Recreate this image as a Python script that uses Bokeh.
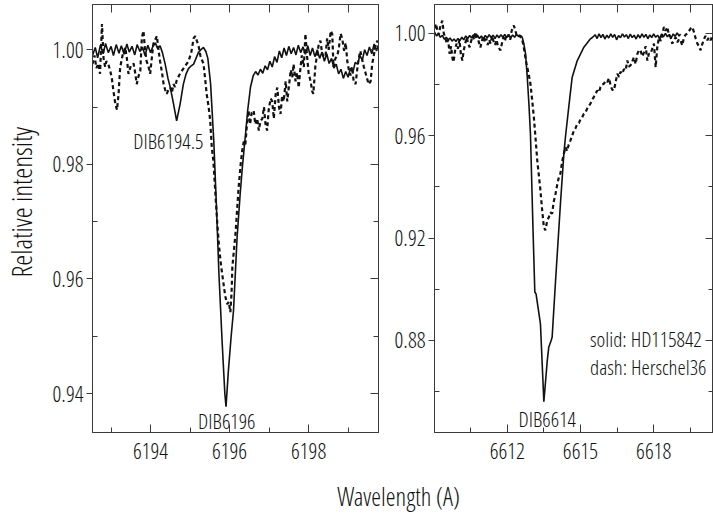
import math
from bokeh.plotting import figure
from bokeh.layouts import column, row
from bokeh.models import Range1d, FixedTicker, PrintfTickFormatter, LinearAxis
from bokeh.core.properties import value
from bokeh.embed import file_html
from bokeh.resources import INLINE

FONT = "Open Sans Condensed Light"

# ---------------- data: left panel (DIB 6194.5 / 6196) ----------------
l_solid_wl = [6192.53, 6192.60, 6192.66, 6192.73, 6192.80, 6192.86, 6192.93, 6193.00, 6193.06, 6193.13,
              6193.20, 6193.26, 6193.33, 6193.40, 6193.46, 6193.53, 6193.60, 6193.66, 6193.73, 6193.80,
              6193.86, 6193.93, 6194.00, 6194.06, 6194.12, 6194.18, 6194.24, 6194.30, 6194.37, 6194.44,
              6194.50, 6194.58, 6194.66, 6194.75, 6194.83, 6194.90, 6194.96, 6195.03, 6195.09, 6195.15,
              6195.21, 6195.27, 6195.34, 6195.40, 6195.45, 6195.52, 6195.60, 6195.66, 6195.73, 6195.81,
              6195.88, 6195.91, 6195.97, 6196.04, 6196.10, 6196.19, 6196.27, 6196.33, 6196.40, 6196.46,
              6196.53, 6196.60, 6196.66, 6196.72, 6196.78, 6196.84, 6196.90, 6196.96, 6197.02, 6197.08,
              6197.14, 6197.20, 6197.26, 6197.32, 6197.38, 6197.44, 6197.50, 6197.56, 6197.62, 6197.68,
              6197.74, 6197.80, 6197.86, 6197.92, 6197.98, 6198.04, 6198.10, 6198.16, 6198.22, 6198.28,
              6198.34, 6198.40, 6198.46, 6198.52, 6198.58, 6198.64, 6198.70, 6198.76, 6198.82, 6198.88,
              6198.94, 6199.00, 6199.06, 6199.12, 6199.18, 6199.24, 6199.30, 6199.36, 6199.42, 6199.48,
              6199.54, 6199.60, 6199.66, 6199.72, 6199.77]
l_solid_int = [0.9990, 1.0004, 0.9986, 1.0008, 0.9993, 1.0011, 0.9995, 1.0006, 0.9990, 1.0009,
               0.9994, 1.0007, 0.9992, 1.0010, 0.9996, 1.0006, 0.9991, 1.0009, 0.9997, 1.0004,
               0.9990, 1.0008, 0.9995, 1.0006, 1.0012, 1.0002, 1.0007, 0.9995, 0.9975, 0.9950,
               0.9934, 0.9906, 0.9876, 0.9906, 0.9940, 0.9958, 0.9967, 0.9972, 0.9975, 0.9985,
               0.9995, 1.0000, 1.0004, 0.9997, 0.9985, 0.9940, 0.9841, 0.9740, 0.9610, 0.9492,
               0.9400, 0.9377, 0.9440, 0.9500, 0.9545, 0.9672, 0.9750, 0.9800, 0.9850, 0.9895,
               0.9935, 0.9955, 0.9962, 0.9956, 0.9966, 0.9959, 0.9972, 0.9965, 0.9980, 0.9970,
               0.9988, 0.9978, 0.9998, 0.9986, 1.0003, 0.9990, 1.0006, 0.9993, 1.0004, 0.9991,
               1.0008, 0.9995, 1.0005, 0.9992, 1.0007, 0.9990, 1.0003, 0.9988, 1.0000, 0.9985,
               0.9996, 0.9980, 0.9993, 0.9976, 0.9985, 0.9968, 0.9975, 0.9958, 0.9966, 0.9950,
               0.9962, 0.9952, 0.9968, 0.9960, 0.9978, 0.9975, 0.9990, 0.9982, 1.0000, 0.9990,
               1.0005, 0.9993, 1.0010, 0.9998, 1.0008]

l_dash_wl = [6192.53, 6192.58, 6192.63, 6192.68, 6192.72, 6192.77, 6192.81, 6192.85, 6192.88, 6192.93,
             6192.98, 6193.02, 6193.06, 6193.11, 6193.15, 6193.19, 6193.23, 6193.29, 6193.36, 6193.40,
             6193.44, 6193.50, 6193.57, 6193.61, 6193.65, 6193.70, 6193.74, 6193.78, 6193.82, 6193.86,
             6193.90, 6193.95, 6193.99, 6194.03, 6194.07, 6194.12, 6194.16, 6194.20, 6194.24, 6194.29,
             6194.33, 6194.37, 6194.41, 6194.45, 6194.50, 6194.54, 6194.58, 6194.62, 6194.66, 6194.72,
             6194.79, 6194.86, 6194.96, 6195.03, 6195.09, 6195.13, 6195.17, 6195.22, 6195.26, 6195.30,
             6195.34, 6195.38, 6195.42, 6195.47, 6195.51, 6195.55, 6195.59, 6195.64, 6195.69, 6195.73,
             6195.77, 6195.81, 6195.85, 6195.89, 6195.94, 6195.98, 6196.02, 6196.05, 6196.07, 6196.11,
             6196.15, 6196.19, 6196.23, 6196.28, 6196.32, 6196.36, 6196.40, 6196.44, 6196.48, 6196.52,
             6196.56, 6196.61, 6196.65, 6196.70, 6196.74, 6196.78, 6196.83, 6196.87, 6196.91, 6196.95,
             6196.99, 6197.04, 6197.08, 6197.12, 6197.17, 6197.21, 6197.25, 6197.29, 6197.33, 6197.37,
             6197.42, 6197.46, 6197.50, 6197.55, 6197.59, 6197.62, 6197.67, 6197.71, 6197.75, 6197.79,
             6197.83, 6197.88, 6197.92, 6197.96, 6198.00, 6198.05, 6198.09, 6198.12, 6198.17, 6198.21,
             6198.26, 6198.30, 6198.34, 6198.38, 6198.43, 6198.47, 6198.51, 6198.56, 6198.60, 6198.63,
             6198.68, 6198.73, 6198.77, 6198.81, 6198.85, 6198.90, 6198.94, 6198.98, 6199.02, 6199.06,
             6199.10, 6199.14, 6199.19, 6199.23, 6199.27, 6199.31, 6199.35, 6199.40, 6199.44, 6199.48,
             6199.52, 6199.57, 6199.61, 6199.65, 6199.69, 6199.74, 6199.77]
l_dash_int = [0.9975, 0.9990, 0.9968, 0.9976, 0.9958, 1.0045, 0.9985, 0.9970, 0.9980, 0.9975,
              0.9963, 0.9950, 0.9928, 0.9905, 0.9895, 0.9923, 0.9969, 0.9990, 1.0004, 0.9985,
              0.9958, 0.9972, 0.9976, 0.9960, 0.9940, 0.9955, 0.9963, 1.0021, 1.0033, 1.0000,
              0.9980, 0.9970, 0.9958, 0.9985, 1.0010, 1.0018, 1.0024, 1.0000, 0.9980, 0.9960,
              0.9940, 0.9930, 0.9923, 0.9930, 0.9934, 0.9925, 0.9940, 0.9935, 0.9946, 0.9955,
              0.9963, 0.9970, 0.9980, 0.9995, 1.0020, 1.0024, 1.0016, 1.0005, 0.9990, 0.9982,
              0.9976, 0.9950, 0.9923, 0.9900, 0.9876, 0.9830, 0.9806, 0.9750, 0.9696, 0.9660,
              0.9632, 0.9610, 0.9590, 0.9570, 0.9556, 0.9560, 0.9542, 0.9575, 0.9620, 0.9650,
              0.9679, 0.9720, 0.9760, 0.9800, 0.9824, 0.9840, 0.9835, 0.9870, 0.9894, 0.9870,
              0.9890, 0.9894, 0.9870, 0.9880, 0.9859, 0.9875, 0.9880, 0.9900, 0.9870, 0.9859,
              0.9895, 0.9915, 0.9910, 0.9880, 0.9925, 0.9934, 0.9900, 0.9888, 0.9920, 0.9910,
              0.9945, 0.9910, 0.9935, 0.9965, 0.9952, 0.9975, 0.9945, 0.9960, 0.9934, 0.9965,
              0.9990, 0.9970, 1.0028, 0.9990, 0.9960, 0.9945, 0.9928, 0.9923, 0.9970, 0.9990,
              1.0010, 1.0016, 0.9995, 0.9987, 0.9990, 1.0020, 1.0000, 1.0033, 1.0027, 0.9970,
              0.9985, 0.9990, 1.0005, 1.0028, 1.0020, 0.9998, 1.0012, 0.9980, 0.9965, 0.9955,
              0.9970, 0.9946, 0.9940, 0.9965, 0.9985, 0.9998, 0.9985, 0.9970, 0.9960, 0.9950,
              0.9940, 0.9945, 0.9975, 0.9990, 1.0005, 1.0016, 1.0004]

# ---------------- data: right panel (DIB 6614) ----------------
r_solid_wl = [6609.02, 6609.10, 6609.18, 6609.26, 6609.34, 6609.42, 6609.50, 6609.58, 6609.66, 6609.74,
              6609.82, 6609.90, 6609.98, 6610.06, 6610.14, 6610.22, 6610.30, 6610.38, 6610.46, 6610.54,
              6610.62, 6610.70, 6610.78, 6610.86, 6610.94, 6611.02, 6611.10, 6611.18, 6611.26, 6611.34,
              6611.42, 6611.50, 6611.58, 6611.66, 6611.74, 6611.82, 6611.90, 6611.98, 6612.06, 6612.14,
              6612.22, 6612.30, 6612.38, 6612.46, 6612.54, 6612.61, 6612.68, 6612.75, 6612.82, 6612.89,
              6612.95, 6613.06, 6613.13, 6613.18, 6613.23, 6613.36, 6613.50, 6613.64, 6613.70, 6613.80,
              6613.84, 6613.98, 6614.18, 6614.32, 6614.39, 6614.52, 6614.66, 6614.87, 6615.14, 6615.41,
              6615.50, 6615.60, 6615.68, 6615.76, 6615.84, 6615.92, 6616.00, 6616.08, 6616.16, 6616.24,
              6616.32, 6616.40, 6616.48, 6616.56, 6616.64, 6616.72, 6616.80, 6616.88, 6616.96, 6617.04,
              6617.12, 6617.20, 6617.28, 6617.36, 6617.44, 6617.52, 6617.60, 6617.68, 6617.76, 6617.84,
              6617.92, 6618.00, 6618.08, 6618.16, 6618.24, 6618.32, 6618.40, 6618.48, 6618.56, 6618.64,
              6618.72, 6618.80, 6618.88, 6618.96, 6619.04, 6619.10]
r_solid_int = [1.0005, 0.9990, 0.9998, 0.9985, 0.9992, 0.9978, 0.9985, 0.9975, 0.9982, 0.9970,
               0.9978, 0.9968, 0.9980, 0.9972, 0.9985, 0.9975, 0.9990, 0.9980, 0.9992, 0.9982,
               0.9995, 0.9983, 0.9993, 0.9980, 0.9990, 0.9978, 0.9992, 0.9982, 0.9995, 0.9984,
               0.9993, 0.9980, 0.9994, 0.9983, 0.9995, 0.9985, 0.9996, 0.9984, 0.9995, 0.9982,
               0.9994, 0.9985, 0.9996, 0.9988, 0.9992, 0.9986, 0.9960, 0.9920, 0.9830, 0.9720,
               0.9610, 0.9220, 0.8989, 0.8982, 0.8950, 0.8865, 0.8560, 0.8721, 0.8773, 0.8800,
               0.8813, 0.9034, 0.9335, 0.9530, 0.9600, 0.9712, 0.9829, 0.9894, 0.9946, 0.9979,
               0.9985, 0.9995, 0.9980, 0.9998, 0.9984, 0.9996, 0.9978, 0.9993, 0.9982, 0.9998,
               0.9985, 0.9996, 0.9975, 0.9992, 0.9983, 0.9998, 0.9986, 0.9995, 0.9980, 0.9997,
               0.9984, 0.9993, 0.9978, 0.9995, 0.9982, 0.9998, 0.9985, 0.9996, 0.9979, 0.9994,
               0.9984, 0.9998, 0.9985, 0.9993, 0.9980, 0.9997, 0.9986, 1.0000, 0.9987, 0.9996,
               0.9982, 0.9998, 0.9988, 1.0002, 0.9990, 0.9998]

r_dash_wl = [6609.02, 6609.08, 6609.14, 6609.20, 6609.26, 6609.34, 6609.40, 6609.46, 6609.52, 6609.58,
             6609.64, 6609.70, 6609.76, 6609.80, 6609.86, 6609.92, 6609.98, 6610.04, 6610.10, 6610.16,
             6610.22, 6610.28, 6610.34, 6610.40, 6610.46, 6610.52, 6610.58, 6610.64, 6610.70, 6610.77,
             6610.84, 6610.90, 6610.96, 6611.02, 6611.08, 6611.14, 6611.20, 6611.26, 6611.32, 6611.38,
             6611.44, 6611.50, 6611.56, 6611.62, 6611.68, 6611.72, 6611.78, 6611.84, 6611.90, 6611.96,
             6612.00, 6612.06, 6612.12, 6612.18, 6612.24, 6612.27, 6612.32, 6612.38, 6612.44, 6612.50,
             6612.54, 6612.60, 6612.66, 6612.72, 6612.78, 6612.82, 6612.88, 6612.95, 6613.02, 6613.09,
             6613.16, 6613.23, 6613.30, 6613.36, 6613.43, 6613.50, 6613.56, 6613.64, 6613.70, 6613.77,
             6613.84, 6613.90, 6613.98, 6614.05, 6614.12, 6614.18, 6614.25, 6614.32, 6614.39, 6614.45,
             6614.52, 6614.59, 6614.66, 6614.73, 6614.80, 6614.87, 6614.94, 6615.00, 6615.07, 6615.14,
             6615.20, 6615.27, 6615.34, 6615.41, 6615.48, 6615.55, 6615.62, 6615.69, 6615.76, 6615.82,
             6615.89, 6615.96, 6616.03, 6616.10, 6616.17, 6616.24, 6616.30, 6616.37, 6616.44, 6616.51,
             6616.58, 6616.64, 6616.71, 6616.78, 6616.85, 6616.92, 6616.98, 6617.05, 6617.12, 6617.19,
             6617.26, 6617.33, 6617.40, 6617.46, 6617.53, 6617.60, 6617.67, 6617.74, 6617.80, 6617.87,
             6617.94, 6618.01, 6618.08, 6618.15, 6618.22, 6618.29, 6618.36, 6618.42, 6618.49, 6618.56,
             6618.62, 6618.69, 6618.76, 6618.83, 6618.90, 6618.97, 6619.04, 6619.10, 6619.17, 6619.24,
             6619.31, 6619.38, 6619.45, 6619.52, 6619.58, 6619.65, 6619.72, 6619.79, 6619.85, 6619.92,
             6619.98, 6620.05, 6620.12, 6620.20, 6620.26, 6620.33, 6620.40, 6620.45]
r_dash_int = [1.0020, 1.0038, 1.0010, 0.9995, 1.0030, 1.0050, 1.0000, 0.9985, 0.9960, 0.9975,
              0.9920, 0.9950, 0.9900, 0.9888, 0.9930, 0.9960, 0.9940, 0.9975, 0.9920, 0.9894,
              0.9935, 0.9960, 0.9985, 0.9960, 0.9946, 0.9970, 0.9990, 0.9975, 1.0005, 0.9986,
              0.9965, 0.9945, 0.9970, 0.9990, 0.9965, 0.9980, 0.9955, 0.9975, 0.9960, 0.9990,
              0.9970, 0.9955, 0.9975, 0.9950, 0.9940, 0.9934, 0.9960, 0.9985, 0.9970, 0.9990,
              0.9986, 0.9995, 0.9975, 1.0010, 1.0025, 1.0031, 1.0015, 0.9995, 1.0000, 0.9990,
              0.9986, 0.9980, 0.9955, 0.9920, 0.9885, 0.9868, 0.9840, 0.9803, 0.9740, 0.9673,
              0.9590, 0.9503, 0.9440, 0.9386, 0.9310, 0.9243, 0.9230, 0.9269, 0.9280, 0.9300,
              0.9296, 0.9340, 0.9374, 0.9410, 0.9440, 0.9453, 0.9500, 0.9530, 0.9555, 0.9540,
              0.9565, 0.9582, 0.9600, 0.9620, 0.9630, 0.9647, 0.9650, 0.9665, 0.9672, 0.9686,
              0.9690, 0.9705, 0.9715, 0.9726, 0.9740, 0.9752, 0.9765, 0.9777, 0.9770, 0.9790,
              0.9800, 0.9803, 0.9815, 0.9810, 0.9825, 0.9795, 0.9780, 0.9777, 0.9810, 0.9842,
              0.9830, 0.9850, 0.9842, 0.9860, 0.9855, 0.9894, 0.9870, 0.9875, 0.9890, 0.9907,
              0.9880, 0.9920, 0.9935, 0.9934, 0.9910, 0.9925, 0.9950, 0.9894, 0.9920, 0.9920,
              0.9940, 0.9960, 0.9868, 0.9950, 0.9985, 0.9970, 1.0000, 1.0025, 1.0010, 1.0025,
              0.9995, 0.9986, 0.9960, 0.9975, 0.9985, 0.9965, 0.9978, 0.9973, 0.9953, 0.9985,
              0.9995, 1.0000, 1.0010, 1.0020, 1.0025, 1.0005, 0.9980, 0.9960, 0.9950, 0.9934,
              0.9955, 0.9975, 0.9990, 0.9973, 0.9985, 0.9973, 0.9990, 0.9980]

# ticks
l_xticks = [6194, 6196, 6198]
l_xminor = [6193, 6195, 6197, 6199]
l_yticks = [0.94, 0.96, 0.98, 1.00]
l_yminor = [0.93, 0.95, 0.97, 0.99]
r_xticks = [6612, 6615, 6618]
r_xminor = [6610.5, 6613.5, 6616.5, 6619.5]
r_yticks = [0.88, 0.92, 0.96, 1.00]
r_yminor = [0.86, 0.90, 0.94, 0.98]

# annotations
l_notes = ["DIB6194.5", "DIB6196"]
l_notes_x = [6194.45, 6195.93]
l_notes_y = [0.9841, 0.9352]
r_notes = ["DIB6614"]
r_notes_x = [6613.64]
r_notes_y = [0.8493]
legend_texts = ["solid: HD115842", "dash: Herschel36"]
legend_x = [6615.39, 6615.39]
legend_y = [0.8806, 0.8695]
y_title = "Relative intensity"
x_title = "Wavelength (A)"

INK = "#111111"
AX = "#3a3a3a"


def style_axes(p, xt, xm, yt, ym):
    xa = p.xaxis[0]
    xa.ticker = FixedTicker(ticks=xt, minor_ticks=xm)
    xa.major_tick_in = 8
    xa.major_tick_out = 0
    xa.minor_tick_in = 5
    xa.minor_tick_out = 0
    xa.major_label_standoff = 10
    ya = p.yaxis[0]
    ya.ticker = FixedTicker(ticks=yt, minor_ticks=ym)
    ya.formatter = PrintfTickFormatter(format="%.2f")
    ya.major_tick_in = 0
    ya.major_tick_out = 6
    ya.minor_tick_in = 5
    ya.minor_tick_out = 0
    ya.major_label_standoff = 3
    for a in (xa, ya):
        a.axis_line_color = AX
        a.major_tick_line_color = AX
        a.minor_tick_line_color = AX
        a.major_label_text_font = FONT
        a.major_label_text_font_size = "22px"
        a.major_label_text_color = INK
    # mirrored axes (ticks only, blank labels)
    top = LinearAxis(ticker=FixedTicker(ticks=xt, minor_ticks=xm),
                     major_tick_in=8, major_tick_out=0, minor_tick_in=8, minor_tick_out=0,
                     major_label_overrides={t: "" for t in xt}, axis_line_color=AX,
                     major_tick_line_color=AX, minor_tick_line_color=AX,
                     major_label_standoff=0, major_label_text_font_size="1px")
    p.add_layout(top, "above")
    right = LinearAxis(ticker=FixedTicker(ticks=yt, minor_ticks=ym),
                       major_tick_in=8, major_tick_out=0, minor_tick_in=5, minor_tick_out=0,
                       major_label_overrides={t: "" for t in yt}, axis_line_color=AX,
                       major_tick_line_color=AX, minor_tick_line_color=AX,
                       major_label_standoff=0, major_label_text_font_size="1px")
    p.add_layout(right, "right")
    p.xgrid.visible = False
    p.ygrid.visible = False
    p.outline_line_color = AX


def blank(w, h):
    f = figure(width=w, height=h, output_backend="svg", toolbar_location=None,
               x_range=Range1d(0, w), y_range=Range1d(0, h),
               x_axis_location=None, y_axis_location=None,
               min_border_left=0, min_border_right=0, min_border_top=0, min_border_bottom=0)
    f.outline_line_color = None
    f.xgrid.visible = False
    f.ygrid.visible = False
    return f


# y title strip
p0 = blank(40, 472)
p0.text([20], [254], text=[y_title], angle=math.pi / 2, text_font=value(FONT), text_font_size="28px",
        text_align="center", text_baseline="middle", text_color=INK)

p1 = figure(width=350, height=472, output_backend="svg", toolbar_location=None,
            x_range=Range1d(6192.53, 6199.77), y_range=Range1d(0.9332, 1.0079),
            min_border_left=52, min_border_right=12, min_border_top=4, min_border_bottom=40)
p1.line(l_solid_wl, l_solid_int, line_color=INK, line_width=1.6)
p1.line(l_dash_wl, l_dash_int, line_color=INK, line_width=2.2, line_dash="4 3")
p1.text(l_notes_x, l_notes_y, text=l_notes, text_font=value(FONT), text_font_size="21px",
        text_align="center", text_baseline="middle", text_color=INK)
style_axes(p1, l_xticks, l_xminor, l_yticks, l_yminor)

p2 = figure(width=323, height=472, output_backend="svg", toolbar_location=None,
            x_range=Range1d(6609.02, 6620.45), y_range=Range1d(0.844, 1.0113),
            min_border_left=44, min_border_right=0, min_border_top=4, min_border_bottom=40)
p2.line(r_solid_wl, r_solid_int, line_color=INK, line_width=1.6)
p2.line(r_dash_wl, r_dash_int, line_color=INK, line_width=2.2, line_dash="4 3")
p2.text(r_notes_x, r_notes_y, text=r_notes, text_font=value(FONT), text_font_size="21px",
        text_align="center", text_baseline="middle", text_color=INK)
p2.text(legend_x, legend_y, text=legend_texts, text_font=value(FONT), text_font_size="21px",
        text_align="left", text_baseline="middle", text_color=INK)
style_axes(p2, r_xticks, r_xminor, r_yticks, r_yminor)

# x title strip
p3 = blank(713, 45)
p3.text([398], [22], text=[x_title], text_font=value(FONT), text_font_size="25px",
        text_align="center", text_baseline="middle", text_color=INK)

layout = column(row(p0, p1, p2), p3)
open("out.html", "w").write(file_html(layout, INLINE))
